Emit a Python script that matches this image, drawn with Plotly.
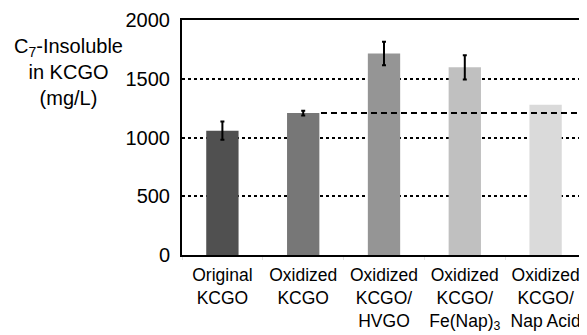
import plotly.graph_objects as go

categories = ["Original<br>KCGO", "Oxidized<br>KCGO", "Oxidized<br>KCGO/<br>HVGO",
              "Oxidized<br>KCGO/<br>Fe(Nap)<sub>3</sub>", "Oxidized<br>KCGO/<br>Nap Acid"]
values = [1058, 1208, 1715, 1597, 1278]
errors = [78, 20, 100, 103]  # last bar has no error bar
colors = ["#505050", "#777777", "#959595", "#c0c0c0", "#dadada"]
reference_level = values[1]
ytick_vals = [0, 500, 1000, 1500, 2000]

fig = go.Figure()
fig.add_trace(go.Bar(
    x=categories, y=values,
    marker=dict(color=colors, line=dict(width=0)),
    width=0.4,
))
fig.add_trace(go.Scatter(
    x=categories[:len(errors)], y=values[:len(errors)], mode="markers",
    marker=dict(size=1, opacity=0),
    error_y=dict(type="data", array=errors, color="black", thickness=2, width=2, visible=True),
    hoverinfo="skip",
))

fig.add_shape(type="line", xref="x", yref="y", x0=1.22, x1=4.42,
              y0=reference_level, y1=reference_level,
              line=dict(color="black", width=2, dash="6px,4px"), layer="above")

font = dict(family="Liberation Sans, Arial, sans-serif", color="black")

fig.update_layout(
    width=579, height=327,
    margin=dict(l=174, r=1, t=12, b=80, autoexpand=False),
    paper_bgcolor="white", plot_bgcolor="white",
    showlegend=False,
    font=dict(size=18, **font),
    xaxis=dict(showline=True, linecolor="black", linewidth=2, mirror=True,
               ticks="outside", tickson="boundaries", ticklen=3, tickcolor="#e0e0e0",
               tickangle=0, automargin=False, ticklabelstandoff=3,
               tickfont=dict(size=17.5, **font), showgrid=False),
    yaxis=dict(range=[0, 2000], tickvals=ytick_vals, showline=True, linecolor="black",
               linewidth=2, mirror=True, showgrid=True, gridcolor="black", gridwidth=1.5,
               griddash="dot", tickfont=dict(size=20, **font), ticks="", automargin=False,
               ticklabelstandoff=6, zeroline=False),
)

fig.add_annotation(text="C<sub>7</sub>-Insoluble<br>in KCGO<br>(mg/L)", xref="paper", yref="paper",
                   x=-0.282, y=0.945, xanchor="center", yanchor="top", showarrow=False,
                   font=dict(size=20, **font))

fig.write_html("out.html")
